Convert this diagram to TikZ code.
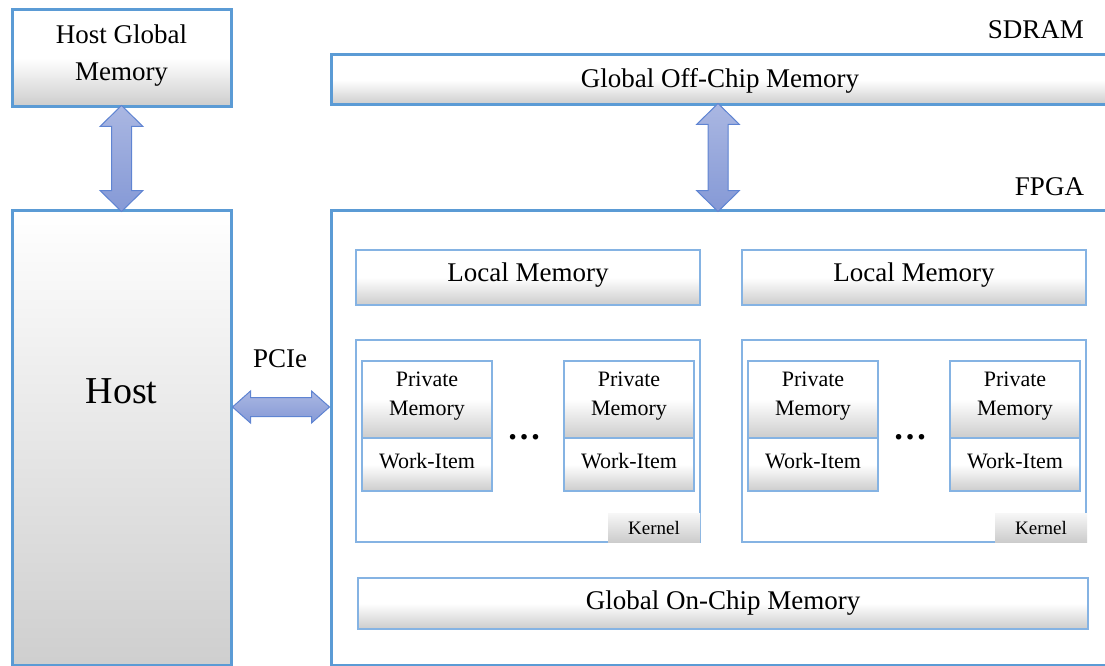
\documentclass[tikz,border=0pt]{standalone}
\usepackage{fontspec}
\setmainfont{Liberation Serif}
\usetikzlibrary{calc}
\definecolor{bordblue}{HTML}{5B9BD5}
\definecolor{thinblue}{HTML}{85B3E3}
\definecolor{arrtop}{HTML}{AAB7E2}
\definecolor{arrbot}{HTML}{8599D6}
\definecolor{arrline}{HTML}{5F84D2}
\pgfdeclareverticalshading{office}{100bp}{color(0bp)=(black!20); color(25bp)=(black!20); color(50bp)=(white); color(100bp)=(white)}
\pgfdeclareverticalshading{linear}{100bp}{color(0bp)=(black!19); color(25bp)=(black!19); color(75bp)=(white); color(100bp)=(white)}
\pgfdeclareverticalshading{kern}{100bp}{color(0bp)=(black!20); color(25bp)=(black!20); color(75bp)=(black!3); color(100bp)=(black!3)}
\begin{document}
\begin{tikzpicture}[x=1pt,y=-1pt,
  every node/.style={inner sep=0pt, outer sep=0pt},
  thickbox/.style={draw=bordblue, line width=3pt, shading=office, anchor=north west, align=center, font=\fontsize{27}{37}\selectfont},
  thinbox/.style={draw=thinblue, line width=1.2pt, shading=office, anchor=north west, align=center, font=\fontsize{27}{33}\selectfont},
  kernbox/.style={draw=thinblue, line width=1.2pt, fill=white, anchor=north west},
  cellbox/.style={draw=thinblue, line width=1.2pt, shading=office, anchor=north west, minimum width=130pt},
  celltext/.style={align=center, font=\fontsize{22}{29}\selectfont},
  klabel/.style={shading=kern, anchor=north west, minimum width=92pt, minimum height=29pt, font=\fontsize{19}{22}\selectfont},
  lbl/.style={font=\fontsize{27}{33}\selectfont},
  fat/.style={fill=arrbot, top color=arrtop, bottom color=arrbot, draw=arrline, line width=1pt, line join=miter}
]
\useasboundingbox (0,0) rectangle (1105,666);
\begin{scope}
\clip (0,0) rectangle (1105,666);
% host side
\node[thickbox, minimum width=219pt, minimum height=97pt] (hgm) at (12,10) {};
\node[lbl, align=center, font=\fontsize{27}{37}\selectfont] (hgmtext) at (121.5,55.5) {Host Global\\Memory};
\node[thickbox, shading=linear, minimum width=219pt, minimum height=455pt] (host) at (12,210) {};
\node[font=\fontsize{38}{40}\selectfont] (hostlbl) at (121.5,391) {Host};
% SDRAM / FPGA
\node[lbl, anchor=east] (sdram) at (1084,29.5) {SDRAM};
\node[thickbox, minimum width=778pt, minimum height=50pt] (offchip) at (331,55) {};
\node[lbl] (offtext) at (720,81) {Global Off-Chip Memory};
\node[lbl, anchor=east] (fpgalbl) at (1084,187) {FPGA};
\node[thickbox, shading=linear, top color=white, bottom color=white, minimum width=778pt, minimum height=455pt] (fpga) at (331,210) {};
% PCIe
\node[lbl] (pcie) at (280,358.5) {PCIe};
% local memories
\node[thinbox, minimum width=344pt, minimum height=55pt] (loc1) at (356,250) {};
\node[lbl] (loc1text) at (528,275) {Local Memory};
\node[thinbox, minimum width=344pt, minimum height=55pt] (loc2) at (742,250) {};
\node[lbl] (loc2text) at (914,275) {Local Memory};
% kernels
\node[kernbox, minimum width=344pt, minimum height=202pt] (k1) at (356,340) {};
\node[kernbox, minimum width=344pt, minimum height=202pt] (k2) at (742,340) {};
\foreach \n/\x in {a/362,b/564,c/748,d/950}{
  \node[cellbox, minimum height=77pt] (pm\n) at (\x,361) {};
  \node[celltext] (pmt\n) at (\x+65,396.5) {Private\\Memory};
  \node[cellbox, minimum height=53pt] (wi\n) at (\x,438) {};
  \node[celltext] (wit\n) at (\x+65,461) {Work-Item};
}
\node[font=\fontsize{34}{34}\selectfont\bfseries] (dots1) at (524,437) {…};
\node[font=\fontsize{34}{34}\selectfont\bfseries] (dots2) at (910,437) {…};
\node[klabel] (kl1) at (608,513) {Kernel};
\node[klabel] (kl2) at (995,513) {Kernel};
% on-chip
\node[thinbox, minimum width=730pt, minimum height=51pt] (onchip) at (358,578) {};
\node[lbl] (ontext) at (723,603) {Global On-Chip Memory};
% fat arrows
\draw[fat] let \p1=($(hgm.south)+(0,-1.5)$), \p2=($(host.north)+(0,1.5)$) in
  (\x1,\y1) -- (\x1+21.5pt,\y1-21pt) -- (\x1+10pt,\y1-21pt) -- (\x1+10pt,\y2+21pt) -- (\x1+21.5pt,\y2+21pt)
  -- (\x1,\y2) -- (\x1-21.5pt,\y2+21pt) -- (\x1-10pt,\y2+21pt) -- (\x1-10pt,\y1-21pt) -- (\x1-21.5pt,\y1-21pt) -- cycle;
\coordinate (oc) at ($(offchip.south west)+(387,-1.5)$);
\coordinate (fc) at ($(fpga.north west)+(387,1.5)$);
\draw[fat] let \p1=(oc), \p2=(fc) in
  (\x1,\y1) -- (\x1+21.5pt,\y1-21pt) -- (\x1+10pt,\y1-21pt) -- (\x1+10pt,\y2+21pt) -- (\x1+21.5pt,\y2+21pt)
  -- (\x1,\y2) -- (\x1-21.5pt,\y2+21pt) -- (\x1-10pt,\y2+21pt) -- (\x1-10pt,\y1-21pt) -- (\x1-21.5pt,\y1-21pt) -- cycle;
\coordinate (hp) at ($(host.north east)+(1.5,197)$);
\coordinate (fp) at ($(fpga.north west)+(-1.5,197)$);
\draw[fat] let \p1=(hp), \p2=(fp) in
  (\x1,\y1) -- (\x1+18pt,\y1+16pt) -- (\x1+18pt,\y1+9.5pt) -- (\x2-18pt,\y1+9.5pt) -- (\x2-18pt,\y1+16pt)
  -- (\x2,\y1) -- (\x2-18pt,\y1-16pt) -- (\x2-18pt,\y1-9.5pt) -- (\x1+18pt,\y1-9.5pt) -- (\x1+18pt,\y1-16pt) -- cycle;
\end{scope}
\end{tikzpicture}
\end{document}
